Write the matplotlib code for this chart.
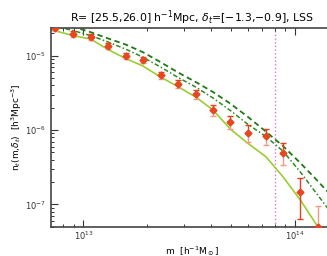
import numpy as np
import matplotlib
matplotlib.use("Agg")
import matplotlib.pyplot as plt

# masses of the bins (h^-1 Msun)
mass = [7.35e12, 8.97e12, 1.084e13, 1.312e13, 1.585e13, 1.91e13, 2.32e13, 2.81e13,
        3.40e13, 4.10e13, 4.95e13, 6.0e13, 7.28e13, 8.77e13, 1.06e14, 1.28e14]
# measured abundance
n_obs = [2.38e-5, 1.98e-5, 1.80e-5, 1.35e-5, 9.9e-6, 8.9e-6, 5.5e-6, 4.16e-6,
         3.05e-6, 1.86e-6, 1.27e-6, 9.2e-7, 8.3e-7, 4.85e-7, 1.48e-7, 5.0e-8]
# error bars (two estimators)
err_red_lo = [0, 0, 0, 0, 0, 0, 0, 0, 0, 0, 0, 0, 0, 0, 8.5e-8, 0]
err_red_hi = [2.32e-6, 1.93e-6, 1.76e-6, 1.32e-6, 9.7e-7, 8.7e-7, 5.4e-7, 5.5e-7,
              4.0e-7, 3.5e-7, 2.6e-7, 2.48e-7, 2.02e-7, 1.75e-7, 8.0e-8, 0]
err_sal_lo = [2.11e-6, 1.76e-6, 1.60e-6, 1.20e-6, 8.8e-7, 7.9e-7, 5.7e-7, 4.9e-7,
              4.4e-7, 2.9e-7, 2.5e-7, 2.24e-7, 2.02e-7, 1.47e-7, 0, 3.0e-8]
err_sal_hi = [0, 0, 0, 0, 0, 0, 0, 0, 0, 0, 0, 0, 0, 0, 0, 4.6e-8]

# model curves
mass_line = [7.04e12, 8.97e12, 1.084e13, 1.312e13, 1.585e13, 1.91e13, 2.32e13, 2.81e13,
             3.40e13, 4.10e13, 4.95e13, 6.0e13, 7.28e13, 8.77e13, 1.06e14, 1.28e14, 1.55e14]
n_solid = [2.25e-5, 1.87e-5, 1.68e-5, 1.21e-5, 9.2e-6, 7.3e-6, 5.16e-6, 3.83e-6,
           2.78e-6, 1.86e-6, 1.03e-6, 6.6e-7, 4.38e-7, 2.35e-7, 1.14e-7, 5.0e-8, 2.5e-8]
mass_mod = [7.35e12, 8.97e12, 1.084e13, 1.312e13, 1.585e13, 1.91e13, 2.32e13, 2.81e13,
            3.40e13, 4.10e13, 4.95e13, 6.0e13, 7.28e13, 8.77e13, 1.06e14, 1.28e14, 1.55e14]
n_dashed = [3.12e-5, 2.47e-5, 2.08e-5, 1.71e-5, 1.42e-5, 1.12e-5, 8.2e-6, 5.94e-6,
            4.43e-6, 3.25e-6, 2.27e-6, 1.50e-6, 9.55e-7, 6.1e-7, 3.6e-7, 2.06e-7, 1.14e-7]
n_dashdot = [2.51e-5, 2.18e-5, 1.87e-5, 1.53e-5, 1.23e-5, 9.6e-6, 7.05e-6, 5.09e-6,
             3.79e-6, 2.70e-6, 1.83e-6, 1.19e-6, 8.2e-7, 5.21e-7, 2.72e-7, 1.33e-7, 6.5e-8]

m_cut = 8.0e13

fig = plt.figure(figsize=(3.27, 2.56), dpi=100)
ax = fig.add_axes([0.156, 0.113, 0.864, 0.777])

ax.plot(mass_line, n_solid, color='#9acd32', lw=1.2, zorder=2)
ax.plot(mass_mod, n_dashed, color='#1e7a14', lw=1.3, ls=(0, (3, 2)), zorder=2)
ax.plot(mass_mod, n_dashdot, color='#2e8b22', lw=1.1, ls=(0, (3, 1.5, 1, 1.5)), zorder=2)
ax.axvline(m_cut, color='#e070e0', lw=1.0, ls=':', zorder=1)

ax.errorbar(mass, n_obs, yerr=[err_sal_lo, err_sal_hi], fmt='none',
            ecolor='#f09a88', elinewidth=1.0, capsize=2, capthick=1.0, zorder=3)
ax.errorbar(mass, n_obs, yerr=[err_red_lo, err_red_hi], fmt='none',
            ecolor='#e2401c', elinewidth=1.0, capsize=2, capthick=1.0, zorder=3)
ax.plot(mass, n_obs, 'D', color='#e8461e', ms=3.5, mec='#e8461e', zorder=4)

ax.set_xscale('log')
ax.set_yscale('log')
ax.set_xlim(7.03e12, 1.52e14)
ax.set_ylim(4.94e-8, 2.36e-5)

ax.tick_params(which='both', direction='in', top=True, right=False,
               labelsize=6, colors='#333333')
ax.tick_params(axis='x', pad=2)
ax.tick_params(which='major', length=5, width=0.8)
ax.tick_params(which='minor', length=2.5, width=0.7)
for s in ['left', 'bottom', 'top']:
    ax.spines[s].set_color('#444444')
    ax.spines[s].set_linewidth(1.2)
ax.spines['right'].set_visible(False)

ax.set_title(r'R= [25.5,26.0] h$^{-1}$Mpc, $\delta_t$=[$-$1.3,$-$0.9], LSS',
             fontsize=7.8, pad=5)
ax.set_xlabel(r'm  [h$^{-1}$M$_\odot$]', fontsize=6.5, labelpad=1)
ax.set_ylabel(r'n$_t$(m,$\delta_t$)  [h$^3$Mpc$^{-3}$]', fontsize=6.5, labelpad=1)

fig.savefig('out.png', dpi=100)
